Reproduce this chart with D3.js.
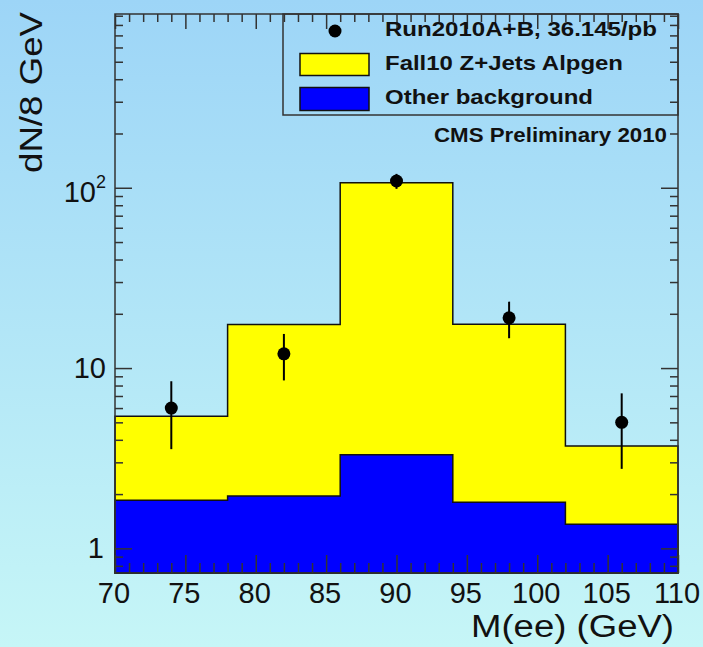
<!DOCTYPE html>
<html>
<head>
<meta charset="utf-8">
<script src="https://cdn.jsdelivr.net/npm/d3@7"></script>
<style>
  body { margin: 0; }
  svg { display: block; font-family: "Liberation Sans", Arial, sans-serif; }
</style>
</head>
<body>
<script>
// data
const binEdges = [70, 78, 86, 94, 102, 110];
const zjets = [3.56, 15.5, 103.3, 15.7, 2.34];   // Fall10 Z+Jets Alpgen (stacked on top)
const other = [1.85, 1.95, 3.30, 1.80, 1.36];    // Other background
const dataX = [74, 82, 90, 98, 106];
const dataN = [6, 12, 109, 19, 5];
const dataErr = [2.45, 3.46, 10.4, 4.36, 2.24];
const yMajor = [1, 10, 100];
const xMajor = [70, 75, 80, 85, 90, 95, 100, 105, 110];

var width = 703, height = 647;
const pLeft = 115, pRight = 678, pTop = 14, pBottom = 573;

const x = d3.scaleLinear().domain([70, 110]).range([pLeft, pRight]);
const y = d3.scaleLog().domain([0.73, 920]).range([pBottom, pTop]);

var svg = d3.select("body").append("svg")
  .attr("width", width)
  .attr("height", height);

const grad = svg.append("defs").append("linearGradient")
  .attr("id", "bg").attr("x1", 0).attr("y1", 0).attr("x2", 0).attr("y2", 1);
grad.append("stop").attr("offset", "0%").attr("stop-color", "#9dd5f7");
grad.append("stop").attr("offset", "100%").attr("stop-color", "#c6f6f7");
svg.append("rect").attr("width", width).attr("height", height).attr("fill", "url(#bg)");

// stacked histogram
const total = zjets.map((d, i) => d + other[i]);
function stepPath(vals) {
  let p = "M" + x(binEdges[0]) + "," + pBottom;
  vals.forEach((v, i) => {
    p += "L" + x(binEdges[i]) + "," + y(v) + "L" + x(binEdges[i + 1]) + "," + y(v);
  });
  p += "L" + x(binEdges[binEdges.length - 1]) + "," + pBottom + "Z";
  return p;
}
svg.append("path").attr("d", stepPath(total))
  .attr("fill", "#ffff00").attr("stroke", "#111").attr("stroke-width", 1.5);
svg.append("path").attr("d", stepPath(other))
  .attr("fill", "#0000ff").attr("stroke", "#111").attr("stroke-width", 1.5);

// axes ticks
const yMinor = y.ticks().filter(v => yMajor.indexOf(v) < 0);
const xMinor = d3.range(71, 110).filter(v => v % 5 !== 0);

function ticks(axisFn, scale, vals, size, tx, ty) {
  svg.append("g").attr("transform", "translate(" + tx + "," + ty + ")")
    .call(axisFn(scale).tickValues(vals).tickSize(size).tickSizeOuter(0).tickFormat(""))
    .call(g => g.select(".domain").remove())
    .selectAll("line").attr("stroke", "#333").attr("stroke-width", 1.5);
}
ticks(d3.axisLeft, y, yMinor, -8, pLeft, 0);
ticks(d3.axisLeft, y, yMajor, -17, pLeft, 0);
ticks(d3.axisRight, y, yMinor, -8, pRight, 0);
ticks(d3.axisRight, y, yMajor, -17, pRight, 0);
ticks(d3.axisBottom, x, xMinor, -10, 0, pBottom);
ticks(d3.axisBottom, x, xMajor, -18, 0, pBottom);
ticks(d3.axisTop, x, xMinor, -8, 0, pTop);
ticks(d3.axisTop, x, xMajor, -15, 0, pTop);

// frame
svg.append("rect").attr("x", pLeft).attr("y", pTop)
  .attr("width", pRight - pLeft).attr("height", pBottom - pTop)
  .attr("fill", "none").attr("stroke", "#333").attr("stroke-width", 1.5);

// data points
svg.append("g").selectAll("line").data(dataN).join("line")
  .attr("x1", (d, i) => x(dataX[i])).attr("x2", (d, i) => x(dataX[i]))
  .attr("y1", (d, i) => y(d + dataErr[i])).attr("y2", (d, i) => y(d - dataErr[i]))
  .attr("stroke", "#000").attr("stroke-width", 2);
svg.append("g").selectAll("circle").data(dataN).join("circle")
  .attr("cx", (d, i) => x(dataX[i])).attr("cy", d => y(d))
  .attr("r", 6.5).attr("fill", "#000");

// tick labels
const xl = svg.append("g").attr("font-size", 29).attr("fill", "#111").attr("text-anchor", "middle");
xl.selectAll("text").data(xMajor).join("text")
  .attr("x", d => x(d) - 1).attr("y", 603).text(d => d);

const yl = svg.append("g").attr("font-size", 29).attr("fill", "#111").attr("text-anchor", "end");
yl.append("text").attr("x", 104).attr("y", y(1) + 10).text("1");
yl.append("text").attr("x", 106).attr("y", y(10) + 10).text("10");
const t100 = yl.append("text").attr("x", 106).attr("y", y(100) + 14).attr("text-anchor", "end");
t100.append("tspan").text("10");
t100.append("tspan").attr("font-size", 18).attr("dy", -14).text("2");

// axis titles
svg.append("text").attr("x", 674).attr("y", 637).attr("text-anchor", "end")
  .attr("font-size", 31).attr("fill", "#111")
  .attr("textLength", 203).attr("lengthAdjust", "spacingAndGlyphs")
  .text("M(ee) (GeV)");
svg.append("text").attr("transform", "translate(42,12) rotate(-90)")
  .attr("text-anchor", "end").attr("font-size", 32).attr("fill", "#111")
  .attr("textLength", 161).attr("lengthAdjust", "spacingAndGlyphs")
  .text("dN/8 GeV");

// legend
const legX = 283, legY = pTop, legW = pRight - 283, legH = 101;
svg.append("rect").attr("x", legX).attr("y", legY).attr("width", legW).attr("height", legH)
  .attr("fill", "none").attr("stroke", "#333").attr("stroke-width", 1.5);
svg.append("circle").attr("cx", 335).attr("cy", 31).attr("r", 6.5).attr("fill", "#000");
svg.append("rect").attr("x", 300).attr("y", 53.5).attr("width", 69).attr("height", 22)
  .attr("fill", "#ffff00").attr("stroke", "#111").attr("stroke-width", 1.5);
svg.append("rect").attr("x", 300).attr("y", 87.5).attr("width", 69).attr("height", 23)
  .attr("fill", "#0000ff").attr("stroke", "#111").attr("stroke-width", 1.5);
const legText = [
  { t: "Run2010A+B, 36.145/pb", y: 36, w: 272 },
  { t: "Fall10 Z+Jets Alpgen", y: 70, w: 238 },
  { t: "Other background", y: 104, w: 208 }
];
svg.append("g").selectAll("text").data(legText).join("text")
  .attr("x", 385).attr("y", d => d.y)
  .attr("font-size", 21).attr("font-weight", "bold").attr("fill", "#111")
  .attr("textLength", d => d.w).attr("lengthAdjust", "spacingAndGlyphs")
  .text(d => d.t);

svg.append("text").attr("x", 667).attr("y", 141.5).attr("text-anchor", "end")
  .attr("font-size", 21).attr("font-weight", "bold").attr("fill", "#111")
  .attr("textLength", 233).attr("lengthAdjust", "spacingAndGlyphs")
  .text("CMS Preliminary 2010");
</script>
</body>
</html>
